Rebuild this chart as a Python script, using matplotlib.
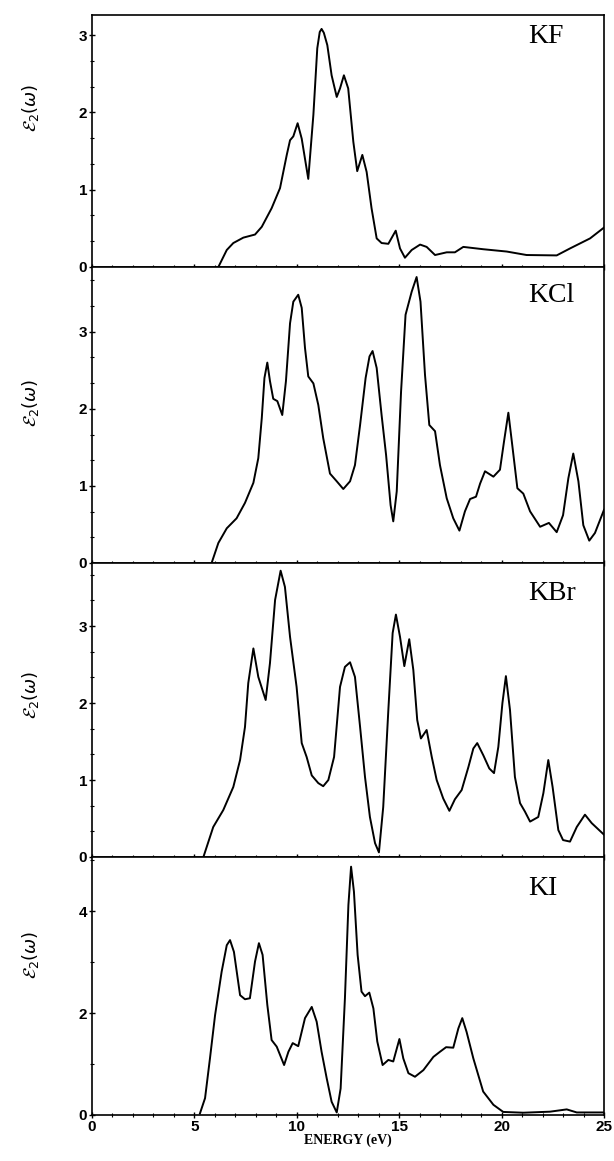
import matplotlib
matplotlib.use("Agg")
import matplotlib.pyplot as plt
from matplotlib.ticker import MultipleLocator

# imaginary part of the dielectric function, eps2(omega), for the potassium halides
kf_e = [6.17, 6.58, 6.90, 7.39, 7.96, 8.29, 8.77, 9.18, 9.51, 9.67, 9.83, 10.04, 10.24, 10.56,
        10.81, 11.00, 11.12, 11.21, 11.32, 11.49, 11.70, 11.95, 12.11, 12.30, 12.51, 12.76, 12.95, 13.20,
        13.41, 13.65, 13.90, 14.14, 14.47, 14.83, 15.04, 15.28, 15.61, 16.02, 16.34, 16.75,
        17.32, 17.72, 18.13, 19.10, 20.25, 21.22, 22.69, 23.34, 24.32, 25.0]
kf_eps = [0.0, 0.22, 0.31, 0.38, 0.42, 0.52, 0.76, 1.02, 1.45, 1.64, 1.69, 1.86, 1.66, 1.14,
          1.97, 2.83, 3.04, 3.08, 3.03, 2.87, 2.48, 2.20, 2.31, 2.48, 2.31, 1.62, 1.24, 1.45,
          1.23, 0.76, 0.37, 0.31, 0.30, 0.47, 0.24, 0.12, 0.22, 0.29, 0.26, 0.155,
          0.19, 0.19, 0.26, 0.23, 0.20, 0.155, 0.15, 0.24, 0.37, 0.51]

kcl_e = [5.84, 6.17, 6.58, 7.06, 7.47, 7.88, 8.12, 8.29, 8.42, 8.56, 8.69, 8.85, 9.05, 9.29,
         9.47, 9.67, 9.83, 10.07, 10.24, 10.40, 10.56, 10.81, 11.05, 11.29, 11.62, 11.95,
         12.27, 12.60, 12.84, 13.09, 13.36, 13.55, 13.70, 13.90, 14.14, 14.36, 14.58, 14.71, 14.88,
         15.09, 15.31, 15.61, 15.85, 16.04, 16.26, 16.47, 16.75, 16.99, 17.32, 17.64, 17.94,
         18.21, 18.46, 18.75, 18.95, 19.19, 19.60, 19.92, 20.12, 20.33, 20.52, 20.77, 21.06,
         21.39, 21.88, 22.31, 22.69, 23.00, 23.26, 23.50, 23.75, 23.99, 24.28, 24.56, 25.0]
kcl_eps = [0.0, 0.26, 0.45, 0.58, 0.78, 1.04, 1.36, 1.88, 2.40, 2.60, 2.36, 2.13, 2.10, 1.92,
           2.36, 3.11, 3.39, 3.48, 3.31, 2.79, 2.42, 2.33, 2.05, 1.62, 1.16, 1.06,
           0.96, 1.06, 1.27, 1.79, 2.40, 2.68, 2.75, 2.53, 1.92, 1.40, 0.75, 0.54, 0.93,
           2.22, 3.22, 3.52, 3.71, 3.39, 2.44, 1.79, 1.71, 1.27, 0.84, 0.58, 0.42,
           0.67, 0.83, 0.86, 1.03, 1.19, 1.12, 1.21, 1.58, 1.95, 1.53, 0.97, 0.90,
           0.67, 0.47, 0.52, 0.40, 0.62, 1.10, 1.42, 1.06, 0.49, 0.29, 0.39, 0.69]

kbr_e = [5.44, 5.92, 6.41, 6.90, 7.23, 7.47, 7.63, 7.88, 8.12, 8.48, 8.69, 8.94, 9.21, 9.42,
         9.67, 9.99, 10.24, 10.48, 10.73, 11.05, 11.29, 11.54, 11.82, 12.11, 12.35, 12.60,
         12.84, 13.09, 13.33, 13.57, 13.82, 14.01, 14.22, 14.47, 14.68, 14.84, 15.04, 15.25,
         15.49, 15.69, 15.88, 16.06, 16.34, 16.59, 16.83, 17.15, 17.45, 17.72, 18.05, 18.38,
         18.62, 18.81, 19.11, 19.40, 19.63, 19.84, 20.04, 20.21, 20.41, 20.65, 20.90, 21.14,
         21.39, 21.79, 22.04, 22.28, 22.49, 22.77, 23.00, 23.34, 23.67, 24.07, 24.40, 25.0]
kbr_eps = [0.0, 0.39, 0.61, 0.91, 1.26, 1.69, 2.26, 2.71, 2.34, 2.04, 2.52, 3.34, 3.72, 3.51,
           2.86, 2.21, 1.48, 1.30, 1.06, 0.96, 0.92, 1.00, 1.30, 2.21, 2.47, 2.53,
           2.34, 1.69, 1.04, 0.52, 0.18, 0.06, 0.65, 1.91, 2.91, 3.15, 2.86, 2.48,
           2.83, 2.43, 1.78, 1.54, 1.65, 1.30, 1.00, 0.76, 0.60, 0.75, 0.87, 1.17,
           1.41, 1.48, 1.32, 1.15, 1.09, 1.43, 2.00, 2.35, 1.91, 1.04, 0.70, 0.59,
           0.46, 0.52, 0.83, 1.26, 0.91, 0.35, 0.22, 0.20, 0.39, 0.55, 0.44, 0.29]

ki_e = [5.27, 5.52, 5.76, 6.01, 6.33, 6.58, 6.74, 6.93, 7.23, 7.47, 7.71, 7.96, 8.15, 8.33,
        8.56, 8.77, 9.02, 9.18, 9.38, 9.59, 9.80, 10.07, 10.40, 10.73, 10.97, 11.21, 11.46,
        11.70, 11.95, 12.14, 12.35, 12.52, 12.65, 12.79, 12.97, 13.16, 13.33, 13.54, 13.74,
        13.93, 14.19, 14.47, 14.71, 15.01, 15.20, 15.45, 15.77, 16.18, 16.67, 16.99, 17.29,
        17.64, 17.89, 18.08, 18.29, 18.62, 19.10, 19.60, 20.08, 21.06, 22.36, 23.18, 23.67, 25.0]
ki_eps = [0.03, 0.33, 1.11, 1.96, 2.81, 3.33, 3.43, 3.20, 2.35, 2.27, 2.29, 3.01, 3.37, 3.14,
          2.16, 1.47, 1.34, 1.18, 0.98, 1.24, 1.41, 1.35, 1.90, 2.12, 1.83, 1.24, 0.72,
          0.26, 0.05, 0.52, 2.29, 4.12, 4.87, 4.38, 3.14, 2.42, 2.33, 2.40, 2.09,
          1.44, 0.98, 1.08, 1.05, 1.49, 1.11, 0.82, 0.75, 0.88, 1.14, 1.24, 1.33,
          1.32, 1.70, 1.90, 1.63, 1.11, 0.46, 0.20, 0.06, 0.045, 0.065, 0.11, 0.05, 0.05]

names = ["KF", "KCl", "KBr", "KI"]
energies = [kf_e, kcl_e, kbr_e, ki_e]
spectra = [kf_eps, kcl_eps, kbr_eps, ki_eps]
ymax = [3.26, 3.84, 3.82, 5.06]
ymajor = [1, 1, 1, 2]
yminor = [1 / 3, 1 / 3, 1 / 3, 1]

# panel edges in pixels from the top of the figure
edges = [15, 267, 563, 857, 1115]
label_y = [0.63, 0.54, 0.55, 0.62]
name_off = [9, 16, 18, 19]

W, H = 614, 1161
fig = plt.figure(figsize=(W / 100, H / 100), dpi=100)
left, right = 92 / W, 604 / W

for i in range(4):
    top = 1 - edges[i] / H
    bot = 1 - edges[i + 1] / H
    ax = fig.add_axes([left, bot, right - left, top - bot])
    ax.plot(energies[i], spectra[i], color="black", lw=1.4)
    ax.set_xlim(0, 25)
    ax.set_ylim(0, ymax[i])
    ax.xaxis.set_major_locator(MultipleLocator(5))
    ax.xaxis.set_minor_locator(MultipleLocator(1))
    ax.yaxis.set_major_locator(MultipleLocator(ymajor[i]))
    ax.yaxis.set_minor_locator(MultipleLocator(yminor[i]))
    ax.tick_params(which="major", direction="inout", length=5, width=1.0,
                   labelsize=11, pad=1)
    ax.tick_params(which="minor", direction="inout", length=2.5, width=0.8)
    for lab in ax.get_yticklabels() + ax.get_xticklabels():
        lab.set_fontweight("bold")
        lab.set_family("Liberation Sans")
    for sp in ax.spines.values():
        sp.set_linewidth(1.2)
    if i < 3:
        ax.tick_params(labelbottom=False)
    ax.set_ylabel(r"$\mathcal{E}_2(\omega)$", fontsize=13)
    ax.yaxis.set_label_coords(-0.10, label_y[i])
    h = edges[i + 1] - edges[i]
    ax.text(0.852, 1 - name_off[i] / h, names[i], transform=ax.transAxes,
            ha="left", va="top", fontsize=20, family="Liberation Serif")

ax.set_xlabel("ENERGY (eV)", fontsize=10, fontweight="bold",
              family="Liberation Serif", labelpad=0)

fig.savefig("out.png", dpi=100)
